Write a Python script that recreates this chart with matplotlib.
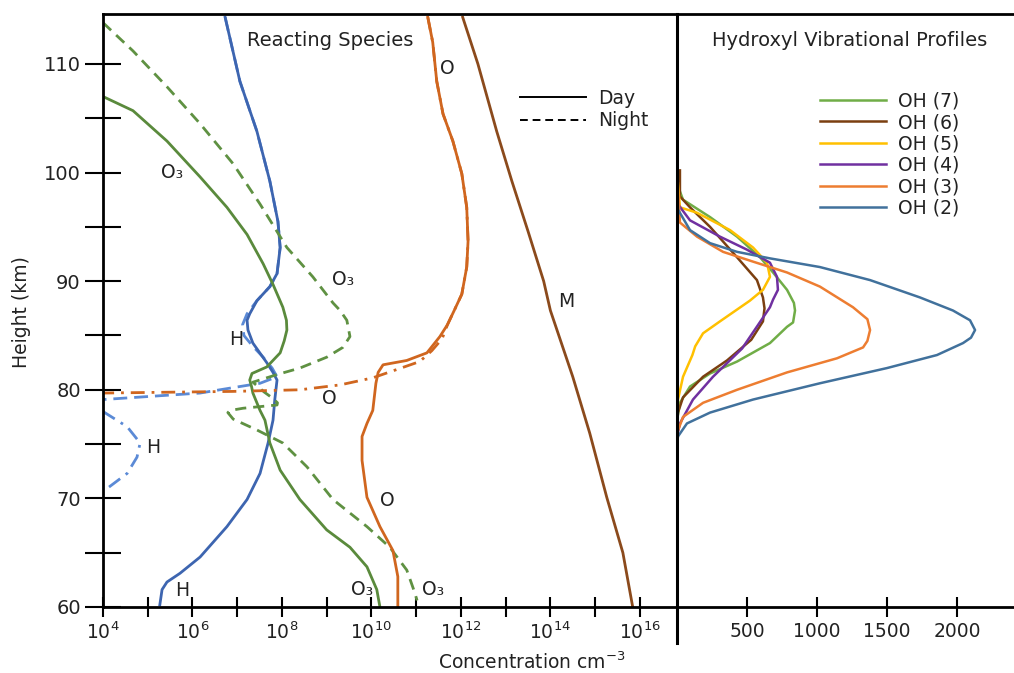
import matplotlib
matplotlib.use("Agg")
import matplotlib.pyplot as plt
from matplotlib.lines import Line2D
from matplotlib.ticker import FixedLocator, FuncFormatter, NullLocator
import numpy as np

plt.rcParams['font.family'] = ['DejaVu Sans']
plt.rcParams['font.size'] = 13

# ---- Reacting species: log10 concentration (cm-3) vs height (km) ----
h_day_km = [60.2, 61.6, 62.3, 63.1, 64.6, 67.4, 69.9, 72.3, 75.1, 77.2, 79.1, 80.9,
            81.6, 82.5, 84.3, 85.5, 86.4, 87.0, 88.2, 89.5, 90.7, 93.1, 95.5, 99.2,
            103.8, 108.4, 114.3]
h_day_log = [5.27, 5.32, 5.43, 5.72, 6.17, 6.77, 7.22, 7.51, 7.69, 7.80, 7.84, 7.89,
             7.80, 7.66, 7.35, 7.24, 7.22, 7.28, 7.44, 7.73, 7.89, 7.96, 7.91, 7.73,
             7.44, 7.06, 6.73]

h_night_km = [114.3, 108.4, 103.8, 99.2, 95.5, 93.1, 90.7, 89.5, 88.2, 87.0, 86.0,
              85.0, 84.0, 83.0, 82.0, 81.2, 80.6, 80.2, 79.7, 79.1]
h_night_log = [6.73, 7.06, 7.44, 7.73, 7.91, 7.96, 7.89, 7.73, 7.44, 7.22, 7.12,
               7.15, 7.35, 7.58, 7.78, 7.89, 7.51, 6.91, 6.17, 4.0]

h_night2_km = [78.0, 76.6, 75.1, 73.8, 72.3, 71.0]
h_night2_log = [4.0, 4.54, 4.83, 4.76, 4.54, 4.12]

o3_day_km = [107.0, 105.7, 102.9, 99.6, 96.8, 94.3, 91.6, 89.7, 87.6, 86.4, 85.5,
             84.5, 83.4, 82.1, 81.5, 80.9, 80.3, 79.7, 78.1, 77.2, 75.1, 72.6, 69.9,
             67.1, 65.5, 63.7, 61.6, 60]
o3_day_log = [4.0, 4.67, 5.43, 6.17, 6.77, 7.22, 7.58, 7.80, 8.02, 8.10, 8.11,
              8.05, 7.96, 7.66, 7.33, 7.28, 7.32, 7.35, 7.51, 7.62, 7.73, 7.96, 8.40,
              9.0, 9.52, 9.90, 10.12, 10.19]

o3_night_km = [113.8, 111.2, 107.9, 104.5, 100.8, 97.1, 93.1, 90.4, 88.0, 87.3, 86.4,
               84.9, 83.9, 83.0, 82.0, 81.4, 80.7, 79.8, 79.2, 78.8, 78.6, 78.3, 78.1,
               77.9, 77.3, 76.3, 75.1, 72.9, 69.9, 67.4, 65.5, 63.4, 61.3, 60.6]
o3_night_log = [4.0, 4.67, 5.43, 6.17, 6.91, 7.51, 8.11, 8.69, 9.14, 9.30, 9.45,
                9.52, 9.36, 9.0, 8.40, 7.89, 7.35, 7.60, 7.80, 7.90, 7.89, 7.13, 6.85,
                6.79, 6.91, 7.44, 8.02, 8.56, 9.14, 9.90, 10.41, 10.79, 10.97, 11.02]

o_day_km = [114.3, 112.0, 108.4, 105.4, 102.9, 99.9, 96.8, 93.7, 91.3, 88.8, 87.3,
            86.0, 84.9, 83.4, 82.7, 82.3, 81.6, 80.6, 78.1, 76.9, 75.7, 73.5, 70.1,
            67.4, 65.2, 62.8, 60.0]
o_day_log = [11.26, 11.37, 11.46, 11.60, 11.82, 12.02, 12.13, 12.16, 12.13, 12.02, 11.85,
             11.70, 11.53, 11.24, 10.79, 10.26, 10.15, 10.10, 10.03, 9.90, 9.79, 9.79, 9.90,
             10.19, 10.48, 10.59, 10.59]

o_night_km = [114.3, 112.0, 108.4, 105.4, 102.9, 99.9, 96.8, 93.7, 91.3, 88.8, 87.3,
              86.0, 84.7, 83.6, 82.6, 81.1, 80.45, 80.0, 79.85, 79.7]
o_night_log = [11.26, 11.37, 11.46, 11.60, 11.82, 12.02, 12.13, 12.16, 12.13, 12.02, 11.85,
               11.70, 11.58, 11.35, 11.08, 10.03, 9.30, 8.40, 6.90, 4.0]

m_km = [114.3, 110.0, 103.8, 99.2, 94.6, 90.0, 87.3, 81.2, 76.0, 70.1, 65.0, 60]
m_log = [12.04, 12.38, 12.80, 13.14, 13.50, 13.85, 14.00, 14.50, 14.88, 15.26, 15.62, 15.84]

# ---- Hydroxyl vibrational profiles ----
oh_names = ["OH (7)", "OH (6)", "OH (5)", "OH (4)", "OH (3)", "OH (2)"]
oh7_km = [99.0, 97.5, 95.9, 94.1, 92.2, 90.8, 89.2, 88.0, 87.3, 86.2, 85.8, 84.3,
          82.6, 81.5, 80.3, 78.8, 77.2]
oh7_val = [0, 43, 236, 429, 593, 686, 786, 835, 843, 829, 786, 664, 429, 236, 93, 21, 0]
oh6_km = [100.2, 97.8, 96.8, 95.0, 92.2, 90.1, 88.5, 87.5, 86.3, 84.6, 82.7, 81.2,
          79.3, 77.9, 76.5]
oh6_val = [21, 21, 93, 236, 429, 571, 614, 625, 614, 530, 357, 186, 43, 7, 0]
oh5_km = [99.0, 96.8, 96.3, 94.7, 93.1, 91.7, 90.4, 89.2, 88.2, 86.3, 85.2, 84.0,
          83.2, 81.2, 79.1, 72.9]
oh5_val = [7, 21, 143, 379, 543, 643, 664, 614, 520, 307, 186, 130, 110, 43, 7, 0]
oh4_km = [97.2, 95.6, 94.1, 92.9, 91.7, 90.4, 89.2, 88.3, 87.6, 85.8, 83.8, 81.2,
          79.1, 76.9, 75.7]
oh4_val = [0, 93, 307, 500, 664, 714, 721, 686, 664, 570, 465, 257, 114, 21, 0]
oh3_km = [100.2, 95.4, 94.1, 92.7, 91.8, 90.8, 89.5, 87.6, 86.5, 85.5, 84.5, 83.9,
          82.9, 81.6, 80.0, 78.8, 77.5, 76.0]
oh3_val = [0, 21, 143, 329, 543, 786, 1021, 1257, 1360, 1379, 1360, 1329, 1143, 786,
           429, 186, 43, 0]
oh2_km = [108.0, 100.0, 97.5, 96.6, 94.7, 93.5, 92.7, 92.1, 91.3, 90.1, 88.5, 87.3,
          86.4, 85.5, 84.8, 84.3, 83.2, 82.0, 80.6, 79.1, 77.9, 76.9, 75.7, 75.0]
oh2_val = [5, 5, 5, 7, 93, 236, 429, 664, 1021, 1379, 1736, 1971, 2093, 2129, 2100,
           2043, 1857, 1500, 1021, 543, 236, 71, 7, 0]

W, H = 1014, 673
fig = plt.figure(figsize=(W / 100, H / 100), dpi=100)

ax = fig.add_axes([103 / W, 66 / H, 574 / W, 593 / H])
ax2 = fig.add_axes([677 / W, 66 / H, 337 / W, 593 / H])

green_d = '#5a8a3c'
green_n = '#5f9142'
blue_d = '#3d65b0'
blue_n = '#5b8ad6'
orange = '#d0661f'
brown = '#8b4a1c'
text_c = '#222222'


def conc(vals):
    return 10.0 ** np.array(vals)


lw = 2.0
# night curves underneath, day curves on top
ax.plot(conc(h_night_log), h_night_km, color=blue_n, lw=lw, ls=(0, (5, 2.5)),
        solid_joinstyle='round')
ax.plot(conc(h_night2_log), h_night2_km, color=blue_n, lw=lw, ls=(0, (5, 2.5, 1, 2.5)))
ax.plot(conc(h_day_log), h_day_km, color=blue_d, lw=lw, solid_joinstyle='round')
ax.plot(conc(o3_night_log), o3_night_km, color=green_n, lw=lw, ls=(0, (4, 2.5)))
ax.plot(conc(o3_day_log), o3_day_km, color=green_d, lw=lw, solid_joinstyle='round')
ax.plot(conc(o_night_log), o_night_km, color=orange, lw=lw, ls=(0, (5, 2.5, 1, 2.5)))
ax.plot(conc(o_day_log), o_day_km, color=orange, lw=lw, solid_joinstyle='round')
ax.plot(conc(m_log), m_km, color=brown, lw=lw, solid_joinstyle='round')

# curve labels
labels = [("O₃", 5.55, 100.0), ("O₃", 9.36, 90.2), ("H", 6.97, 84.6),
          ("O", 9.05, 79.2), ("H", 5.12, 74.7), ("O", 10.35, 69.8),
          ("H", 5.77, 61.5), ("O₃", 9.79, 61.6), ("O₃", 11.37, 61.6),
          ("O", 11.69, 109.6), ("M", 14.35, 88.1)]
for txt, lx, ly in labels:
    ax.text(10 ** lx, ly, txt, ha='center', va='center', fontsize=13.5, color=text_c)

ax.set_xscale('log')
ax.set_xlim(1e4, 10 ** 16.83)
ax.set_ylim(60, 114.6)
ax.xaxis.set_major_locator(FixedLocator([10.0 ** e for e in range(4, 17)]))
ax.xaxis.set_minor_locator(NullLocator())
ax.xaxis.set_major_formatter(FuncFormatter(
    lambda v, p: "$10^{%d}$" % round(np.log10(v)) if round(np.log10(v)) % 2 == 0 else ""))
ax.yaxis.set_major_locator(FixedLocator(range(60, 111, 10)))
ax.yaxis.set_minor_locator(FixedLocator(range(65, 110, 10)))
ax.tick_params(axis='x', direction='inout', length=15, width=1.5, labelsize=13.5,
               pad=3, labelcolor=text_c)
ax.tick_params(axis='y', which='both', direction='inout', length=26, width=1.5,
               labelsize=14, pad=3, labelcolor=text_c)
for s in ['left', 'bottom', 'top']:
    ax.spines[s].set_linewidth(2)
ax.spines['right'].set_visible(False)

ax.text(0.396, 0.956, "Reacting Species", transform=ax.transAxes, ha='center',
        va='center', fontsize=14, color=text_c)

day_h = Line2D([], [], color='black', lw=1.4)
night_h = Line2D([], [], color='black', lw=1.4, ls=(0, (4, 2.5)))
ax.legend([day_h, night_h], ["Day", "Night"], loc='upper left',
          bbox_to_anchor=(0.711, 0.89), frameon=False, handlelength=3.5,
          handletextpad=0.65, labelspacing=0.2, borderpad=0, fontsize=13.5,
          labelcolor=text_c)

# ---- right panel ----
oh_colors = ['#70ad47', '#7b3f10', '#ffc000', '#7030a0', '#ed7d31', '#41719c']
oh_series = [(oh7_val, oh7_km), (oh6_val, oh6_km), (oh5_val, oh5_km),
             (oh4_val, oh4_km), (oh3_val, oh3_km), (oh2_val, oh2_km)]
for (vals, kms), col, name in zip(oh_series, oh_colors, oh_names):
    ax2.plot(vals, kms, color=col, lw=1.8, label=name, solid_joinstyle='round')

ax2.set_xlim(0, 337 / 0.14)
ax2.set_ylim(60, 114.6)
ax2.set_xticks([500, 1000, 1500, 2000])
ax2.set_yticks([])
ax2.tick_params(axis='x', direction='inout', length=15, width=1.5, labelsize=13.5,
                pad=3, labelcolor=text_c)
ax2.spines['left'].set_linewidth(2.2)
ax2.spines['bottom'].set_linewidth(2)
ax2.spines['top'].set_linewidth(2)
ax2.spines['right'].set_visible(False)
ax2.text(0.513, 0.956, "Hydroxyl Vibrational Profiles", transform=ax2.transAxes,
         ha='center', va='center', fontsize=14, color=text_c)
ax2.legend(loc='upper left', bbox_to_anchor=(0.397, 0.885), frameon=False,
           handlelength=3.5, handletextpad=0.65, labelspacing=0.13, borderpad=0,
           fontsize=13.5, labelcolor=text_c)

# divider line extends below the axis
fig.add_artist(Line2D([677 / W, 677 / W], [(H - 643) / H, 66 / H], color='black',
                      lw=2.2))

fig.text(22 / W, 1 - 312 / H, "Height (km)", rotation=90, ha='center', va='center',
         fontsize=13.5, color=text_c)
fig.text(532 / W, 1 - 662 / H, "Concentration cm$^{-3}$", ha='center', va='center',
         fontsize=13.5, color=text_c)

fig.savefig("out.png", dpi=100)
